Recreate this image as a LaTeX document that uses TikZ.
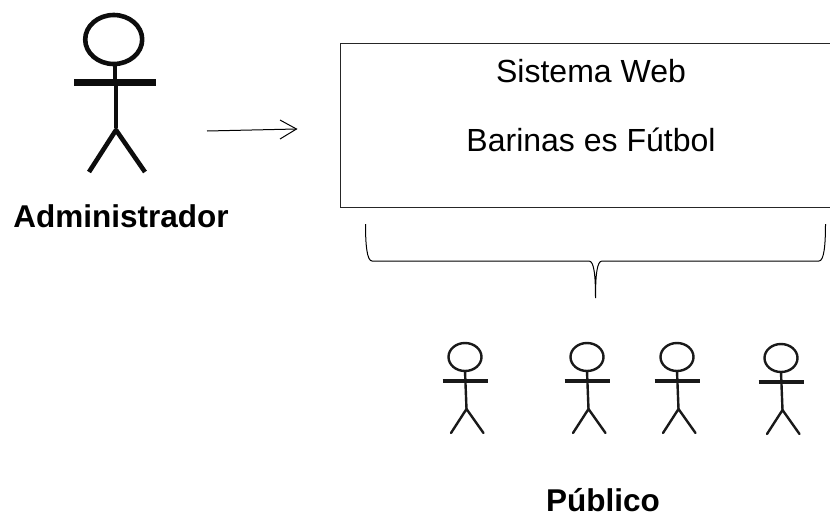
\documentclass[tikz,border=0pt]{standalone}
\usepackage{fontspec}
\setmainfont{Liberation Sans}
\tikzset{
  x=1pt,y=-1pt,
  boxstyle/.style={draw=black!85,line width=1.1pt,minimum width=490pt,minimum height=164pt,anchor=north west,inner sep=0pt},
  plain/.style={font=\fontsize{32}{36}\selectfont,inner sep=0pt},
  strong/.style={font=\fontsize{31.5}{36}\selectfont\bfseries,inner sep=0pt},
  thinline/.style={line width=1pt,black},
  bigactor/.style={line width=4.6pt,black!95,line join=round},
  smallactor/.style={line width=2.4pt,black!90,line cap=round,line join=round},
}
\newcommand{\smallfigure}[3]{%
  \begin{scope}[shift={(#1,#2)}]
    \coordinate (#3) at (0,0);
    \draw[smallactor] (#3) ellipse [x radius=16.5,y radius=14];
    \draw[smallactor] (0,14) -- (1.5,52);
    \draw[smallactor,line width=3.4pt,line cap=butt] (-22.5,24) -- (23,24);
    \draw[smallactor] (-14,76) -- (1.5,52) -- (18.5,76);
  \end{scope}}
\begin{document}
\begin{tikzpicture}
\useasboundingbox (0,0) rectangle (830,517);
% administrator
\draw[bigactor] (113.7,39.5) ellipse [x radius=28.5,y radius=24.5];
\draw[bigactor,line width=3.8pt] (115,64) -- (115,82);
\draw[bigactor,line width=6.5pt] (74,82.5) -- (156,82.5);
\draw[bigactor] (116,82) -- (116,128) ;
\draw[bigactor] (89,172) -- (116,130) -- (145,172);
\node[strong] (admin) at (121,216) {Administrador};
% system
\node[boxstyle] (web) at (340,43) {};
\node[plain] (t1) at (591,71.5) {Sistema Web};
\node[plain] (t2) at (591,139.5) {Barinas es Fútbol};
% arrow
\coordinate (a0) at (207,131);
\coordinate (a1) at (296.5,129);
\coordinate (a2) at (280,120);
\coordinate (a3) at (280,139);
\draw[thinline] (a0) -- (a1);
\draw[thinline] (a2) -- (a1) -- (a3);
% brace
\coordinate (bl) at (365.5,224);
\coordinate (br) at (825.5,224);
\coordinate (bt) at (595.5,298);
\draw[thinline] (bl) .. controls (365.5,245) and (367,261) .. (372,261)
  -- (589,261) .. controls (594,261) and (595.5,275) .. (bt)
  .. controls (595.5,275) and (597,261) .. (602,261)
  -- (819,261) .. controls (824,261) and (825.5,245) .. (br);
% public
\smallfigure{465}{357}{p1}
\smallfigure{587}{357}{p2}
\smallfigure{677}{357}{p3}
\smallfigure{781}{358}{p4}
\node[strong] (pub) at (603,500) {Público};
\end{tikzpicture}
\end{document}
